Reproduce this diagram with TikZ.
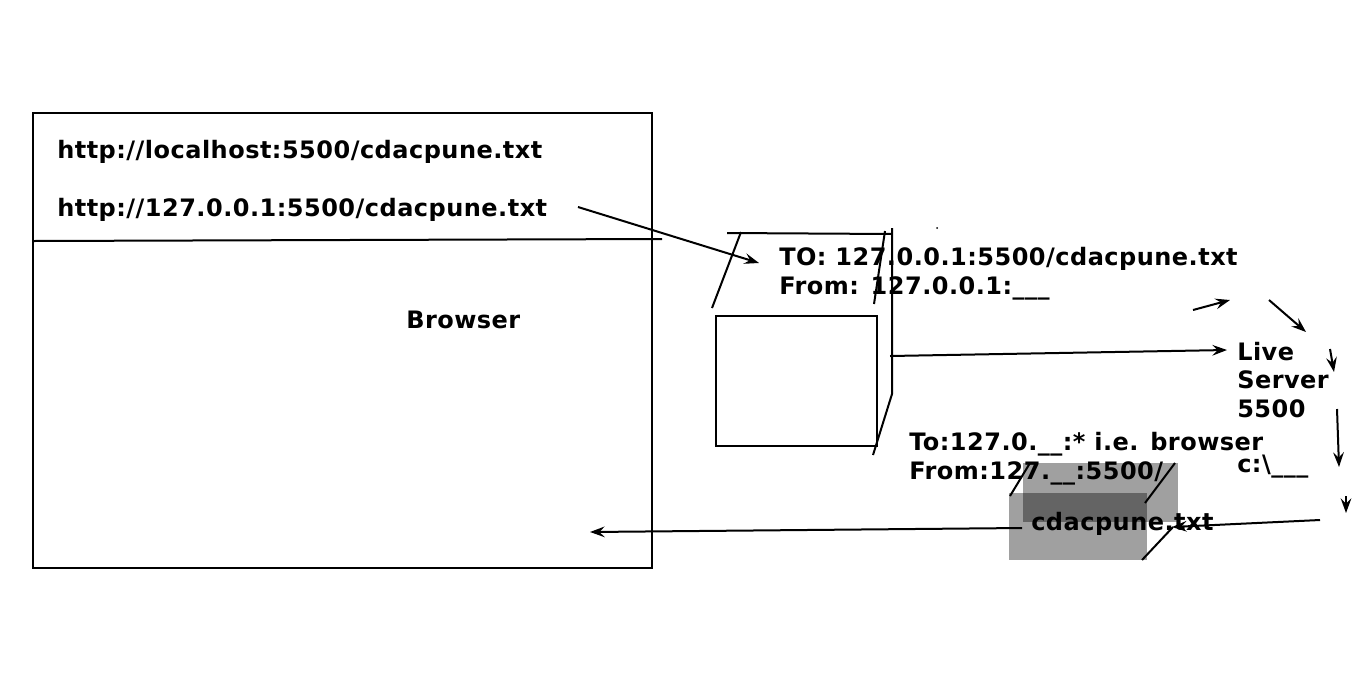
\documentclass[tikz,border=0pt]{standalone}
\usepackage{fontspec}
\setmainfont{DejaVu Sans}[LetterSpace=2]
\usetikzlibrary{arrows.meta}
\begin{document}
\begin{tikzpicture}[x=0.75pt,y=-0.75pt,
  lbl/.style={font=\bfseries\fontsize{18}{21.6}\selectfont, anchor=west, inner sep=0pt, align=left},
  ln/.style={line width=1.5pt, black},
  arr/.style={ln, -{Stealth[length=11pt,width=8pt,inset=4pt]}},
  shade/.style={fill=black, fill opacity=0.373, draw=none}
]
\useasboundingbox (0,0) rectangle (1366,697);
% browser window
\draw[ln] (33,113) rectangle (652,568);
\draw[ln] (33,241) -- (662,239);
\node[lbl] (url1) at (57,152) {http://localhost:5500/cdacpune.txt};
\node[lbl] (url2) at (57,210) {http://127.0.0.1:5500/cdacpune.txt};
\node[lbl] (browser) at (406,320) {Browser};

% request cube
\node[draw, line width=1.5pt, minimum width=120.75pt, minimum height=97.5pt, inner sep=0pt, anchor=north west] (front) at (715,315) {};
\draw[ln] (727,233) -- (892,234);
\draw[ln] (741,232) -- (712,308);
\draw[ln] (885,231) -- (874,304);
\draw[ln] (892,228) -- (892,394) -- (873,455);
\fill (937,228) circle (1);
\node[lbl] (req) at (779,273.5) {TO: 127.0.0.1:5500/cdacpune.txt\\From: 127.0.0.1:\_\_\_};

% response cube (grey)
\fill[shade] (1023,463) rectangle (1178,522);
\fill[shade] (1009,493) rectangle (1147,560);
\draw[ln] (1010,496) -- (1030,463);
\draw[ln] (1145,503) -- (1175,463);
\draw[ln] (1142,560) -- (1173,527);
\node[lbl] (resp) at (909,458.5) {To:127.0.\_\_:* i.e. browser\\From:127.\_\_:5500/};
\node[lbl] (file) at (1031,524) {cdacpune.txt};

% live server
\node[lbl, align=left, font=\bfseries\fontsize{18}{21.3}\selectfont] (live) at (1237,380) {Live\\Server\\5500};
\node[lbl] (cdrive) at (1237,467) {c:\textbackslash\_\_\_};

% connectors
\coordinate (a1s) at (578,207);
\coordinate (a1e) at (759,263);
\draw[arr] (a1s) -- (a1e);
\coordinate (a2s) at (890,356);
\coordinate (a2e) at (1227,350);
\draw[arr] (a2s) -- (a2e);
\coordinate (a3s) at (1193,310);
\coordinate (a3e) at (1230,300);
\draw[arr] (a3s) -- (a3e);
\coordinate (a4s) at (1269,300);
\coordinate (a4e) at (1306,332);
\draw[arr] (a4s) -- (a4e);
\coordinate (a5s) at (1330,349);
\coordinate (a5e) at (1334,372);
\draw[arr] (a5s) -- (a5e);
\coordinate (a6s) at (1337,409);
\coordinate (a6e) at (1339,467);
\draw[arr] (a6s) -- (a6e);
\coordinate (a7s) at (1346,496);
\coordinate (a7e) at (1346,513);
\draw[arr] (a7s) -- (a7e);
\coordinate (a8s) at (1320,520);
\coordinate (a8e) at (1172,527);
\draw[arr] (a8s) -- (a8e);
\coordinate (a9s) at (1022,528);
\coordinate (a9e) at (590,532);
\draw[arr] (a9s) -- (a9e);
\end{tikzpicture}
\end{document}
